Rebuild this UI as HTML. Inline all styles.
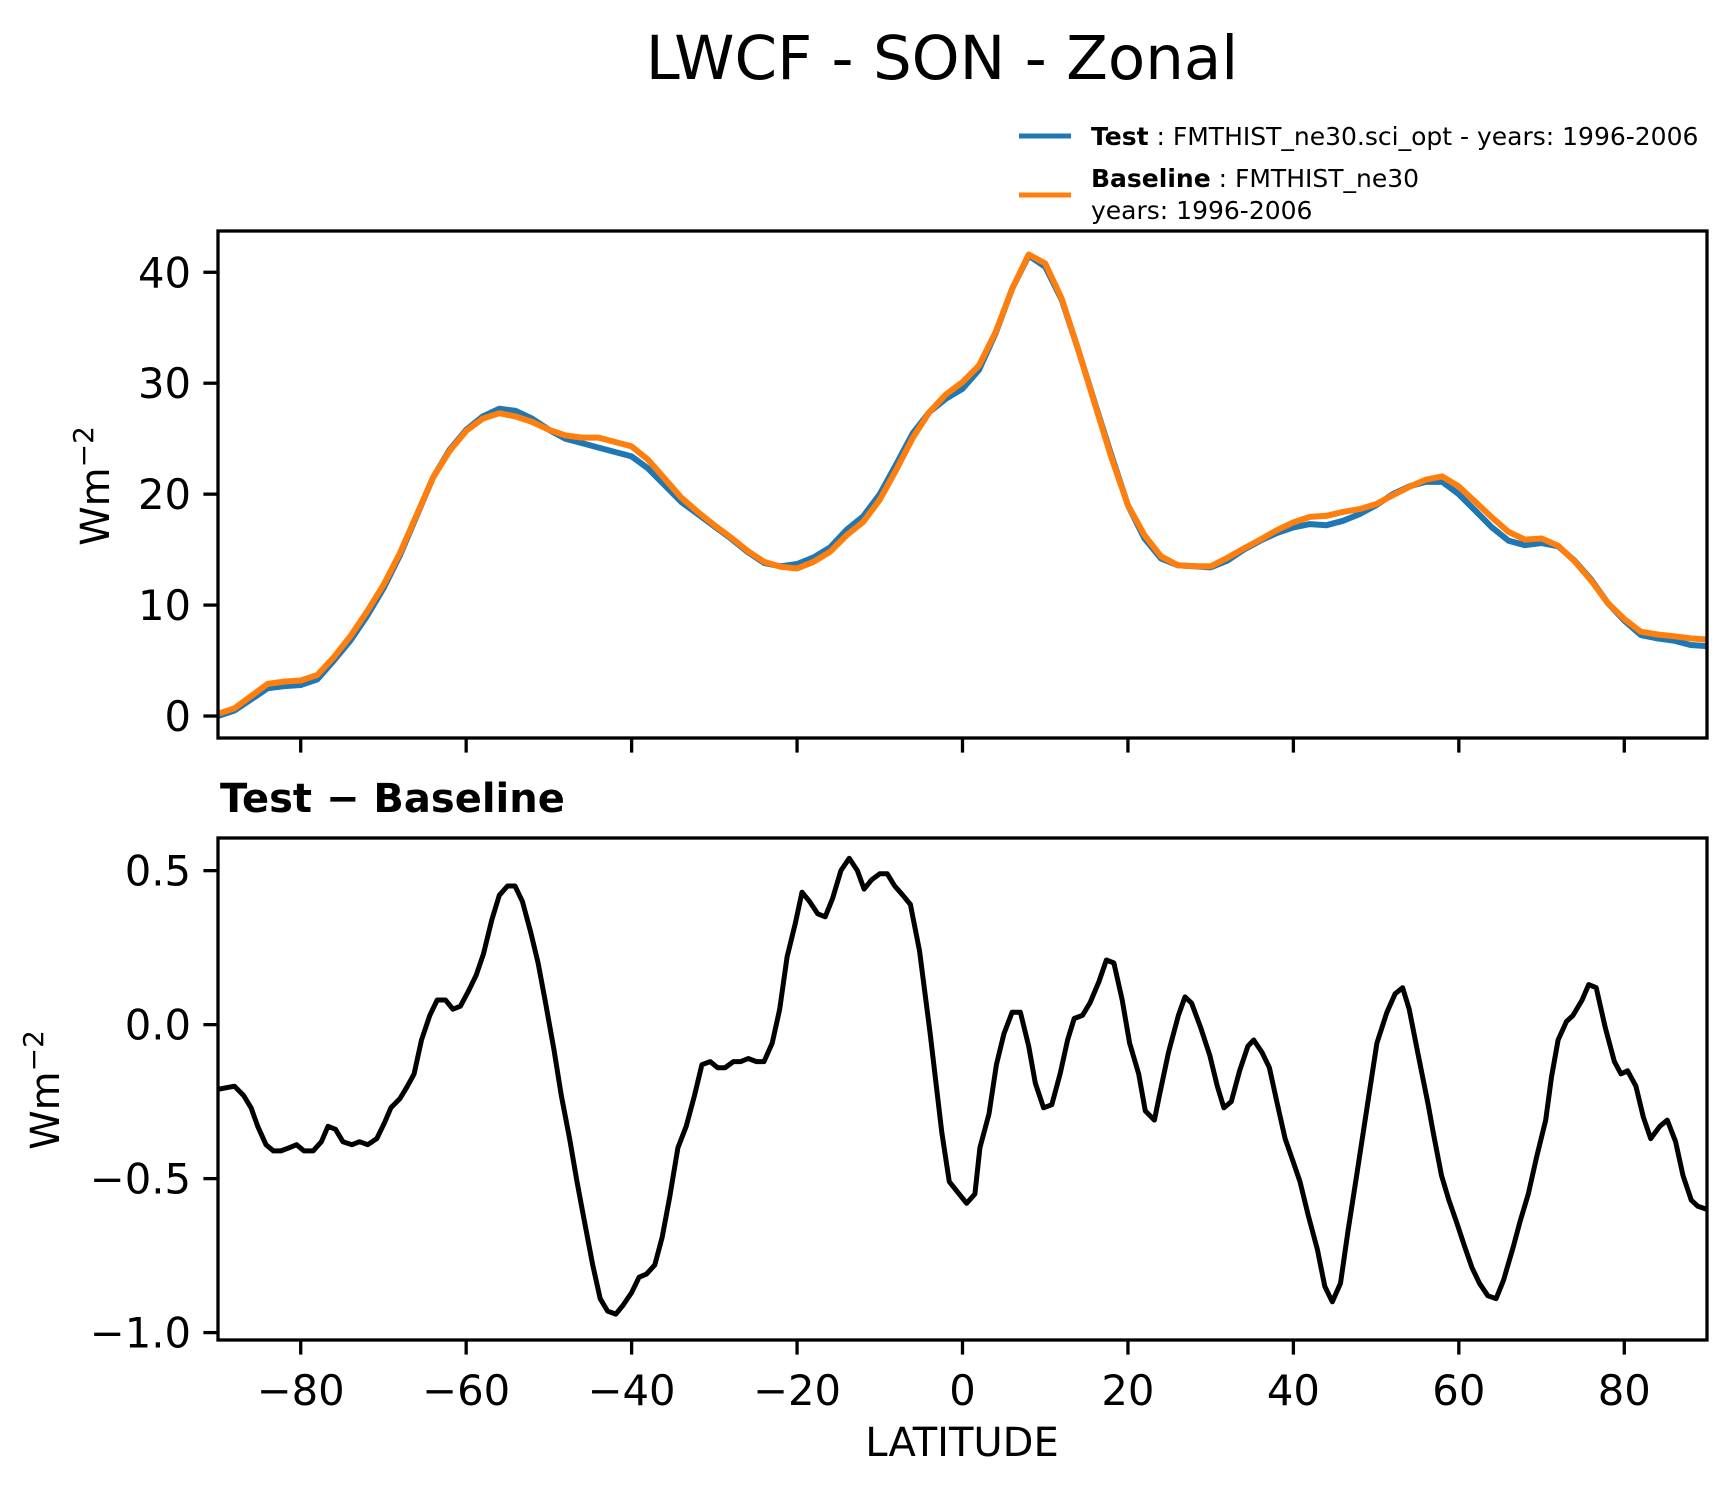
<!DOCTYPE html>
<html><head><meta charset="utf-8"><style>
html,body{margin:0;padding:0;background:#fff;}
svg{display:block;font-family:"DejaVu Sans","Liberation Sans",sans-serif;}
</style></head><body>
<svg id="fig" width="1736" height="1496" viewBox="0 0 1736 1496" xmlns="http://www.w3.org/2000/svg">
<rect width="1736" height="1496" fill="#fff"/>
<text x="942" y="79" font-size="61" text-anchor="middle">LWCF - SON - Zonal</text>
<g>
<line x1="1019" y1="136" x2="1071" y2="136" stroke="#1f77b4" stroke-width="5"/>
<text x="1091" y="145" font-size="25"><tspan font-weight="bold">Test</tspan> : FMTHIST_ne30.sci_opt - years: 1996-2006</text>
<line x1="1019" y1="195" x2="1071" y2="195" stroke="#ff7f0e" stroke-width="5"/>
<text x="1091" y="187" font-size="25"><tspan font-weight="bold">Baseline</tspan> : FMTHIST_ne30</text>
<text x="1091" y="219" font-size="25">years: 1996-2006</text>
</g>
<g id="topg"></g>
<g id="botg"></g>
<text x="220" y="812" font-size="40" font-weight="bold">Test − Baseline</text>
<text x="962" y="1456" font-size="40" text-anchor="middle">LATITUDE</text>
<text transform="translate(109,486) rotate(-90)" font-size="40" text-anchor="middle">Wm<tspan font-size="28" dy="-16">−2</tspan></text>
<text transform="translate(59,1090) rotate(-90)" font-size="40" text-anchor="middle">Wm<tspan font-size="28" dy="-16">−2</tspan></text>
</svg>
<script>
const latTop = [-90,-88,-86,-84,-82,-80,-78,-76,-74,-72,-70,-68,-66,-64,-62,-60,-58,-56,-54,-52,-50,-48,-46,-44,-42,-40,-38,-36,-34,-32,-30,-28,-26,-24,-22,-20,-18,-16,-14,-12,-10,-8,-6,-4,-2,0,2,4,6,8,10,12,14,16,18,20,22,24,26,28,30,32,34,36,38,40,42,44,46,48,50,52,54,56,58,60,62,64,66,68,70,72,74,76,78,80,82,84,86,88,90];
const testVals = [0,0.5,1.5,2.5,2.7,2.8,3.3,5,6.8,9,11.5,14.5,18,21.5,24,25.8,27,27.7,27.5,26.8,25.8,25,24.6,24.2,23.8,23.4,22.3,20.8,19.3,18.2,17.1,16,14.8,13.8,13.5,13.7,14.3,15.2,16.8,18,20,22.7,25.5,27.4,28.6,29.5,31.2,34.5,38.5,41.5,40.5,37.5,33,28.2,23.5,19,16,14.2,13.6,13.5,13.4,14,15,15.8,16.5,17,17.3,17.2,17.6,18.2,19,20,20.7,21.1,21.1,20,18.5,17,15.8,15.4,15.6,15.3,14,12.3,10.2,8.6,7.3,7,6.8,6.4,6.3];
const baseVals = [0.2,0.7,1.8,2.9,3.1,3.2,3.7,5.3,7.2,9.4,11.8,14.7,18.1,21.5,23.9,25.7,26.8,27.3,27.0,26.5,25.8,25.3,25.1,25.1,24.7,24.3,23.1,21.4,19.7,18.4,17.2,16.1,14.9,13.9,13.45,13.3,13.9,14.8,16.3,17.5,19.5,22.2,25.1,27.4,29.0,30.1,31.6,34.6,38.5,41.6,40.8,37.6,33,28.1,23.3,19.0,16.3,14.4,13.6,13.5,13.5,14.25,15.1,15.9,16.75,17.45,17.95,18.05,18.4,18.65,19.1,19.9,20.65,21.3,21.6,20.7,19.3,17.9,16.6,15.9,16.0,15.35,13.95,12.2,10.2,8.75,7.6,7.35,7.2,7.0,6.9];
const latDiff = [-90,-88,-86.9,-86,-85.2,-84.2,-83.3,-82.4,-81.4,-80.5,-79.6,-78.5,-77.5,-76.7,-75.8,-74.9,-73.8,-72.9,-71.9,-70.8,-69.9,-69.1,-68,-67.1,-66.3,-65.4,-64.4,-63.5,-62.5,-61.6,-60.7,-59.7,-58.8,-57.9,-56.9,-56,-55,-54.1,-53.2,-52.2,-51.3,-50.4,-49.4,-48.5,-47.5,-46.6,-45.7,-44.7,-43.8,-42.9,-41.9,-41,-40,-39.1,-38.2,-37.2,-36.3,-35.4,-34.4,-33.4,-32.4,-31.5,-30.5,-29.6,-28.7,-27.7,-26.8,-25.9,-24.9,-24,-23,-22.1,-21.2,-20.2,-19.4,-18.5,-17.5,-16.6,-15.7,-14.7,-13.7,-12.7,-11.9,-11,-10,-9.1,-8.2,-7.2,-6.3,-5.2,-3.9,-2.5,-1.6,0.5,1.5,2.1,3.2,4.1,5,6,7,8,8.8,9.8,10.8,11.8,12.7,13.5,14.5,15.4,16.5,17.4,18.3,19.3,20.2,21.3,22.1,23.2,23.8,24.9,26.1,26.9,27.7,28.8,29.9,30.8,31.6,32.5,33.5,34.5,35.2,36.2,37.1,38,39,39.9,40.8,41.8,42.9,43.8,44.7,45.7,46.6,47.7,48.9,50.1,51.3,52.3,53.2,54,55.1,56.3,56.9,57.9,58.8,59.7,60.7,61.6,62.5,63.5,64.5,65.4,66.6,67.4,68.4,69.4,70.5,71.2,72,73,73.8,74.9,75.7,76.6,77.7,78.8,79.6,80.4,81.4,82.3,83.2,84.3,85.2,86.2,87.1,88.1,88.9,90];
const diffVals = [-0.21,-0.20,-0.23,-0.27,-0.33,-0.39,-0.41,-0.41,-0.40,-0.39,-0.41,-0.41,-0.38,-0.33,-0.34,-0.38,-0.39,-0.38,-0.39,-0.37,-0.32,-0.27,-0.24,-0.20,-0.16,-0.05,0.03,0.08,0.08,0.05,0.06,0.11,0.16,0.23,0.34,0.42,0.45,0.45,0.40,0.30,0.20,0.07,-0.08,-0.23,-0.37,-0.51,-0.64,-0.78,-0.89,-0.93,-0.94,-0.91,-0.87,-0.82,-0.81,-0.78,-0.69,-0.56,-0.40,-0.33,-0.23,-0.13,-0.12,-0.14,-0.14,-0.12,-0.12,-0.11,-0.12,-0.12,-0.06,0.05,0.22,0.33,0.43,0.40,0.36,0.35,0.41,0.50,0.54,0.50,0.44,0.47,0.49,0.49,0.45,0.42,0.39,0.24,-0.03,-0.35,-0.51,-0.58,-0.55,-0.40,-0.29,-0.13,-0.03,0.04,0.04,-0.07,-0.19,-0.27,-0.26,-0.16,-0.05,0.02,0.03,0.07,0.14,0.21,0.20,0.08,-0.06,-0.16,-0.28,-0.31,-0.23,-0.09,0.03,0.09,0.07,-0.01,-0.10,-0.20,-0.27,-0.25,-0.15,-0.07,-0.05,-0.09,-0.14,-0.25,-0.37,-0.44,-0.51,-0.62,-0.73,-0.85,-0.90,-0.84,-0.67,-0.48,-0.27,-0.06,0.04,0.10,0.12,0.05,-0.10,-0.26,-0.35,-0.49,-0.57,-0.64,-0.72,-0.79,-0.84,-0.88,-0.89,-0.83,-0.72,-0.64,-0.55,-0.43,-0.31,-0.17,-0.05,0.01,0.03,0.08,0.13,0.12,-0.01,-0.12,-0.16,-0.15,-0.20,-0.30,-0.37,-0.33,-0.31,-0.38,-0.49,-0.57,-0.59,-0.60];
const xTicks = [-80,-60,-40,-20,0,20,40,60,80];
const topYTicks = [0,10,20,30,40];
const botYTicks = [-1.0,-0.5,0.0,0.5];
const botYLabels = ["−1.0","−0.5","0.0","0.5"];

(function () {
const NS = "http://www.w3.org/2000/svg";
const L = 218, R = 1707;
const xs = v => L + (v + 90) / 180 * (R - L);
const T1 = 231, B1 = 738, yTopMax = 43.72, yTopMin = -1.98;
const yTop = v => T1 + (yTopMax - v) / (yTopMax - yTopMin) * (B1 - T1);
const T2 = 838, B2 = 1340, yBotMax = 0.606, yBotMin = -1.024;
const yBot = v => T2 + (yBotMax - v) / (yBotMax - yBotMin) * (B2 - T2);

function mk(tag, attrs, parent) {
  const e = document.createElementNS(NS, tag);
  for (const k in attrs) e.setAttribute(k, attrs[k]);
  parent.appendChild(e);
  return e;
}
function linePath(xa, ya, fx, fy) {
  return xa.map((x, i) => (i ? "L" : "M") + fx(x).toFixed(1) + "," + fy(ya[i]).toFixed(1)).join("");
}
const gTop = document.getElementById("topg");
const gBot = document.getElementById("botg");

const defs = mk("defs", {}, document.getElementById("fig"));
const c1 = mk("clipPath", {id: "c1"}, defs); mk("rect", {x: L, y: T1, width: R - L, height: B1 - T1}, c1);
const c2 = mk("clipPath", {id: "c2"}, defs); mk("rect", {x: L, y: T2, width: R - L, height: B2 - T2}, c2);

const pt = mk("path", {d: linePath(latTop, testVals, xs, yTop), fill: "none", stroke: "#1f77b4", "stroke-width": 6, "stroke-linejoin": "round", "clip-path": "url(#c1)"}, gTop);


const pb = mk("path", {d: linePath(latTop, baseVals, xs, yTop), fill: "none", stroke: "#ff7f0e", "stroke-width": 6, "stroke-linejoin": "round", "clip-path": "url(#c1)"}, gTop);


const pd = mk("path", {d: linePath(latDiff, diffVals, xs, yBot), fill: "none", stroke: "#000", "stroke-width": 5, "stroke-linejoin": "round", "clip-path": "url(#c2)"}, gBot);



const f1 = mk("rect", {x: L, y: T1, width: R - L, height: B1 - T1, fill: "none", stroke: "#000", "stroke-width": 3.3}, gTop);


const f2 = mk("rect", {x: L, y: T2, width: R - L, height: B2 - T2, fill: "none", stroke: "#000", "stroke-width": 3.3}, gBot);



xTicks.forEach(v => {
  const x = xs(v);
  const t1 = mk("line", {x1: x, y1: B1, x2: x, y2: B1 + 14.6, stroke: "#000", "stroke-width": 3.3}, gTop);
  
  
  const t2 = mk("line", {x1: x, y1: B2, x2: x, y2: B2 + 14.6, stroke: "#000", "stroke-width": 3.3}, gBot);
  
  
  const lb = mk("text", {x: x, y: B2 + 65, "font-size": 41.7, "text-anchor": "middle"}, gBot);
  lb.textContent = v < 0 ? "−" + Math.abs(v) : String(v);
  
  
});
topYTicks.forEach(v => {
  const y = yTop(v);
  const t = mk("line", {x1: L - 14.6, y1: y, x2: L, y2: y, stroke: "#000", "stroke-width": 3.3}, gTop);
  
  
  const lb = mk("text", {x: L - 27, y: y + 15, "font-size": 41.7, "text-anchor": "end"}, gTop);
  lb.textContent = String(v);
  
  
});
botYTicks.forEach((v, i) => {
  const y = yBot(v);
  const t = mk("line", {x1: L - 14.6, y1: y, x2: L, y2: y, stroke: "#000", "stroke-width": 3.3}, gBot);
  
  
  const lb = mk("text", {x: L - 27, y: y + 15, "font-size": 41.7, "text-anchor": "end"}, gBot);
  lb.textContent = botYLabels[i];
  
  
});
})();
</script>
</body></html>
